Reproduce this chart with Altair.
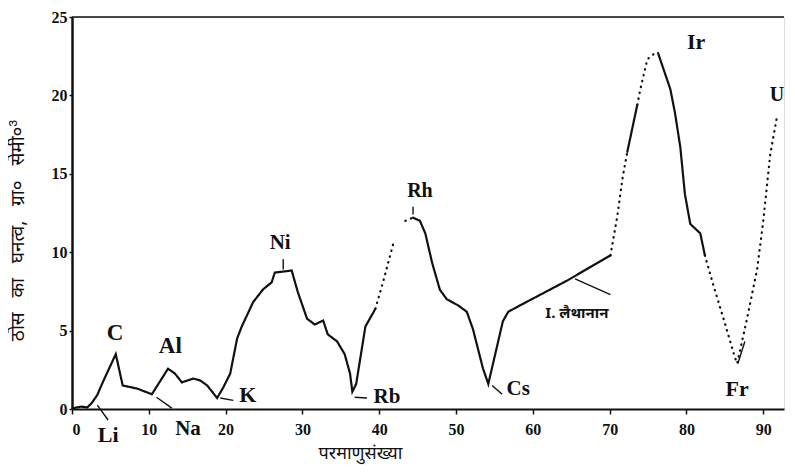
import altair as alt
import pandas as pd

# ---- curve pieces: atomic number (z) and density (d) ----
s1_z = [0.1, 1.2, 2.0, 2.6, 3.3, 4.0, 5.7, 6.6, 8.5, 10.4, 12.5, 13.4, 14.3, 15.8, 16.7, 17.6, 18.9, 19.7, 20.6, 21.5, 22.1, 23.6, 24.9, 26.0, 26.4, 28.6, 29.4, 30.6, 31.6, 32.7, 33.3, 34.5, 35.5, 36.2, 36.5, 37.0, 38.2, 39.5]
s1_d = [0.05, 0.15, 0.1, 0.4, 0.9, 1.7, 3.5, 1.5, 1.3, 0.94, 2.57, 2.26, 1.7, 1.94, 1.82, 1.5, 0.7, 1.38, 2.26, 4.5, 5.26, 6.83, 7.64, 8.08, 8.7, 8.83, 7.46, 5.76, 5.39, 5.64, 4.76, 4.32, 3.5, 2.26, 1.1, 1.6, 5.26, 6.39]
d1_z = [39.5, 40.5, 41.8]
d1_d = [6.39, 8.1, 10.5]
d2_z = [43.4, 44.4]
d2_d = [12.0, 12.2]
s2_z = [44.4, 45.3, 46.0, 46.9, 47.9, 48.8, 50.3, 51.4, 52.2, 53.5, 54.2, 56.1, 56.8, 58.3, 64.5, 70.1]
s2_d = [12.2, 12.0, 11.2, 9.3, 7.6, 7.0, 6.6, 6.2, 5.1, 2.6, 1.6, 5.6, 6.2, 6.6, 8.2, 9.8]
d3_z = [70.1, 71.0, 71.7, 72.3]
d3_d = [9.8, 12.3, 14.8, 16.4]
s3_z = [72.3, 73.6]
s3_d = [16.4, 19.4]
d4_z = [73.6, 74.0, 74.9, 75.9, 76.3]
d4_d = [19.4, 20.4, 22.3, 22.7, 22.7]
s4_z = [76.3, 77.9, 78.5, 79.2, 79.8, 80.5, 81.8, 82.4]
s4_d = [22.7, 20.4, 18.9, 16.7, 13.7, 11.8, 11.2, 9.8]
d5_z = [82.4, 83.5, 84.8, 86.3, 86.6, 87.9, 89.2, 90.0, 90.9, 91.8]
d5_d = [9.8, 7.9, 5.8, 3.3, 2.9, 5.8, 8.9, 12.0, 16.2, 18.7]

pieces = [("s1", "solid", s1_z, s1_d), ("d1", "dotted", d1_z, d1_d),
          ("d2", "dotted", d2_z, d2_d), ("s2", "solid", s2_z, s2_d),
          ("d3", "dotted", d3_z, d3_d), ("s3", "solid", s3_z, s3_d),
          ("d4", "dotted", d4_z, d4_d), ("s4", "solid", s4_z, s4_d),
          ("d5", "dotted", d5_z, d5_d)]

# ---- element labels ----
lab_text = ["C", "Al", "Ni", "Rh", "Ir", "U", "Fr", "Cs", "Rb", "K", "Li", "Na"]
lab_z = [5.6, 12.8, 27.1, 45.3, 81.25, 91.8, 86.6, 58.1, 41.0, 22.9, 4.7, 15.1]
lab_d = [4.84, 4.0, 10.6, 13.9, 23.4, 20.0, 1.3, 1.3, 0.75, 0.9, -1.63, -1.3]
lab_size = [23, 23, 21, 20, 22, 20, 22, 21, 21, 22, 22, 21]

la_text = ["I. लैथानान"]
la_z = [61.6]
la_d = [6.1]

# ---- leader lines / arrows ----
ld_z = [3.3, 11.0, 19.3, 36.8, 54.7, 65.5, 27.5, 44.4, 87.6]
ld_d = [0.25, 0.75, 0.7, 0.75, 1.5, 8.3, 9.55, 12.9, 4.3]
ld_z2 = [4.7, 13.0, 21.0, 38.4, 56.0, 70.1, 27.5, 44.4, 86.7]
ld_d2 = [-0.7, 0.06, 0.55, 0.7, 0.94, 7.3, 8.9, 12.4, 2.9]

x_ticks = [0, 10, 20, 30, 40, 50, 60, 70, 80, 90]
y_ticks = [0, 5, 10, 15, 20, 25]

rows = []
for name, style, zs, ds in pieces:
    for z, d in zip(zs, ds):
        rows.append({"z": z, "d": d, "seg": name, "style": style})
curve = pd.DataFrame(rows)

labels = pd.DataFrame({"t": lab_text, "z": lab_z, "d": lab_d, "s": lab_size})
la = pd.DataFrame({"t": la_text, "z": la_z, "d": la_d})
leaders = pd.DataFrame({"z": ld_z, "d": ld_d, "z2": ld_z2, "d2": ld_d2})
top = pd.DataFrame({"z": [0], "z2": [92.7], "d": [25]})

XMAX = 92.7
xs = alt.Scale(domain=[0, XMAX], nice=False, zero=False)
ys = alt.Scale(domain=[0, 25], nice=False)
serif = "Liberation Serif"
deva = "Noto Sans Devanagari, Lohit Devanagari, FreeSans, Noto Sans, sans-serif"
nb = "\u00a0\u00a0 "
y_title = nb.join(["ठोस", "का", "घनत्व,", "ग्रा०", "सेमी०³"])

x_axis = alt.Axis(
    values=x_ticks, title="परमाणुसंख्या", titleFont=deva, titleFontSize=18,
    titleFontWeight="normal", titleX=288, titleY=44, titleBaseline="middle",
    titleAnchor="middle", labelFont=serif, labelFontWeight="bold", labelFontSize=16,
    labelPadding=7, tickSize=5, grid=False, domainColor="#111", tickColor="#111",
    labelColor="#111", titleColor="#111", domainWidth=2, tickWidth=1.5)
y_axis = alt.Axis(
    values=y_ticks, title=y_title, titleFont=deva, titleFontSize=19,
    titleFontWeight="normal", titleX=-55, titleY=213, titleBaseline="middle",
    titleAngle=-90, titleLimit=400, labelFont=serif, labelFontWeight="bold", labelFontSize=16,
    labelPadding=2, tickSize=3, grid=False, domainColor="#111", tickColor="#111",
    labelColor="#111", titleColor="#111", domainWidth=2.5, tickWidth=1.5)

X = alt.X("z:Q", scale=xs, axis=x_axis)
Y = alt.Y("d:Q", scale=ys, axis=y_axis)

line = alt.Chart(curve).mark_line(color="#111", strokeWidth=2.2, strokeCap="round").encode(
    x=X, y=Y,
    detail="seg:N",
    strokeDash=alt.StrokeDash("style:N", scale=alt.Scale(domain=["solid", "dotted"],
                              range=[[1, 0], [0.5, 5.5]]), legend=None),
    order="z:Q",
)

lead = alt.Chart(leaders).mark_rule(color="#111", strokeWidth=1.4).encode(
    x=X, y=Y, x2="z2:Q", y2="d2:Q")

border = alt.Chart(top).mark_rule(color="#111", strokeWidth=1.6).encode(
    x=X, x2="z2:Q", y=Y)

txt = alt.Chart(labels).mark_text(font=serif, fontWeight="bold", color="#111",
                                  baseline="middle", align="center").encode(
    x=X, y=Y, text="t:N", size=alt.Size("s:Q", scale=None, legend=None))

latxt = alt.Chart(la).mark_text(font=deva, fontSize=15, color="#111", fontWeight="bold",
                                baseline="middle", align="left").encode(
    x=X, y=Y, text="t:N")

chart = alt.layer(line, lead, border, txt, latxt).properties(
    width=712, height=392,
    autosize=alt.AutoSizeParams(type="none"),
    padding={"left": 64, "top": 9, "right": 3, "bottom": 60},
).configure_view(stroke=None).configure(background="white")

chart.save("out.html", embed_options={"renderer": "svg", "actions": False})
